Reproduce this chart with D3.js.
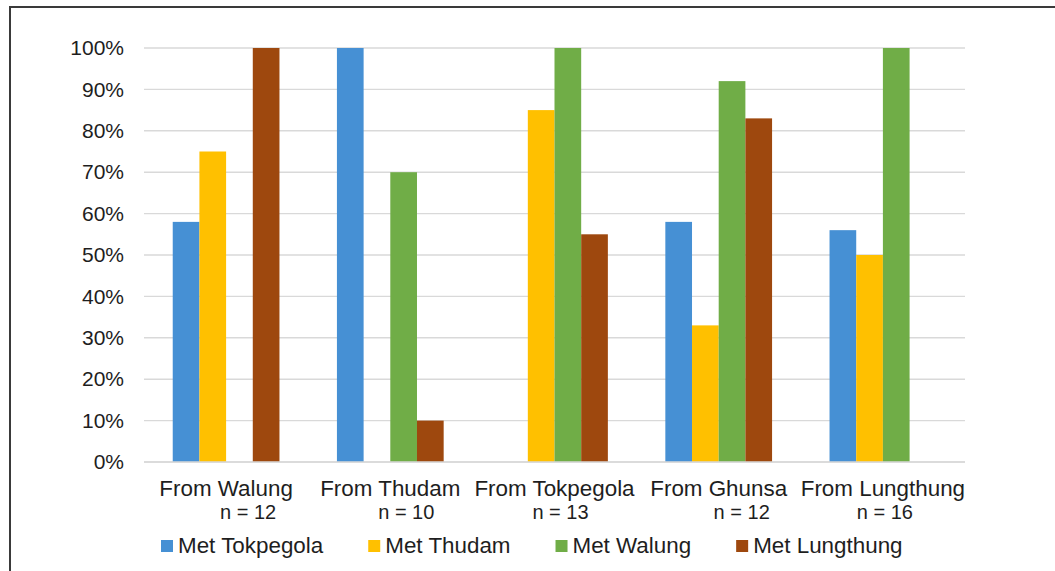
<!DOCTYPE html>
<html>
<head>
<meta charset="utf-8">
<script src="https://cdn.jsdelivr.net/npm/d3@7"></script>
<style>
  html, body { margin: 0; padding: 0; background: #fff; }
  svg { display: block; font-family: "Liberation Sans", Arial, sans-serif; }
</style>
</head>
<body>
<svg id="chart" width="1055" height="571"></svg>
<script>
// Origin villages (x categories) and sample sizes
const categories = ["From Walung", "From Thudam", "From Tokpegola", "From Ghunsa", "From Lungthung"];
const sampleSizes = ["n = 12", "n = 10", "n = 13", "n = 12", "n = 16"];

// Series: share of respondents who met people from each village
const seriesNames = ["Met Tokpegola", "Met Thudam", "Met Walung", "Met Lungthung"];
const metTokpegola = [0.58, 1.00, 0.00, 0.58, 0.56];
const metThudam    = [0.75, 0.00, 0.85, 0.33, 0.50];
const metWalung    = [0.00, 0.70, 1.00, 0.92, 1.00];
const metLungthung = [1.00, 0.10, 0.55, 0.83, 0.00];
const seriesValues = [metTokpegola, metThudam, metWalung, metLungthung];
const seriesColors = ["#4690d4", "#ffc000", "#70ad47", "#9e480e"];

const yTicks = [0, 0.1, 0.2, 0.3, 0.4, 0.5, 0.6, 0.7, 0.8, 0.9, 1.0];

// Layout
const plot = { left: 144, right: 965, top: 48, bottom: 462 };
const nLabelShift = [22, 16, 6, 23, 2];   // sample-size lines sit slightly right of centre
const tickFont = 21;
const labelFont = 22.4;
const textColor = "#1e1e1e";

const svg = d3.select("#chart");

// Outer chart frame (top and left edges are visible)
svg.append("path")
  .attr("d", "M10,571 L10,7 L1055,7")
  .attr("fill", "none")
  .attr("stroke", "#3a3a3a")
  .attr("stroke-width", 2);

const x0 = d3.scaleBand().domain(categories).range([plot.left, plot.right]).paddingInner(0.35).paddingOuter(0.175);
const x1 = d3.scaleBand().domain(seriesNames).range([0, x0.bandwidth()]);
const y = d3.scaleLinear().domain([0, 1]).range([plot.bottom, plot.top]);

// Gridlines
svg.append("g")
  .selectAll("line")
  .data(yTicks)
  .join("line")
  .attr("x1", plot.left).attr("x2", plot.right)
  .attr("y1", d => y(d)).attr("y2", d => y(d))
  .attr("stroke", "#d9d9d9")
  .attr("stroke-width", 1.4);

// Y axis labels
const yAxis = d3.axisLeft(y).tickValues(yTicks).tickFormat(d3.format(".0%")).tickSize(0).tickPadding(20);
const yg = svg.append("g").attr("transform", `translate(${plot.left},0)`).call(yAxis);
yg.select(".domain").remove();
yg.selectAll("text")
  .attr("font-family", "Liberation Sans, Arial, sans-serif")
  .attr("font-size", tickFont)
  .attr("fill", textColor);

// Bars
const groups = svg.append("g")
  .selectAll("g")
  .data(categories)
  .join("g")
  .attr("transform", d => `translate(${x0(d)},0)`);

groups.selectAll("rect")
  .data((c, ci) => seriesNames.map((s, si) => ({ s, v: seriesValues[si][ci], color: seriesColors[si] })))
  .join("rect")
  .attr("x", d => x1(d.s))
  .attr("width", x1.bandwidth())
  .attr("y", d => y(d.v))
  .attr("height", d => y(0) - y(d.v))
  .attr("fill", d => d.color);

// Baseline
svg.append("line")
  .attr("x1", plot.left).attr("x2", plot.right)
  .attr("y1", y(0)).attr("y2", y(0))
  .attr("stroke", "#d9d9d9").attr("stroke-width", 1.4);

// Category labels with sample sizes
const xl = svg.append("g")
  .selectAll("g")
  .data(categories)
  .join("g");
xl.append("text")
  .attr("x", d => x0(d) + x0.bandwidth() / 2)
  .attr("y", 496)
  .attr("text-anchor", "middle")
  .attr("font-size", labelFont)
  .attr("fill", textColor)
  .text(d => d);
xl.append("text")
  .attr("x", (d, i) => x0(d) + x0.bandwidth() / 2 + nLabelShift[i])
  .attr("y", 519)
  .attr("text-anchor", "middle")
  .attr("font-size", 20)
  .attr("fill", textColor)
  .text((d, i) => sampleSizes[i]);

// Legend
const legend = svg.append("g");
let lx = 161;
seriesNames.forEach((name, i) => {
  const item = legend.append("g").attr("transform", `translate(${lx},0)`);
  item.append("rect")
    .attr("x", 0).attr("y", 540)
    .attr("width", 12).attr("height", 12)
    .attr("fill", seriesColors[i]);
  const t = item.append("text")
    .attr("x", 17).attr("y", 553)
    .attr("font-size", labelFont)
    .attr("fill", textColor)
    .text(name);
  lx += 17 + t.node().getComputedTextLength() + 45;
});
</script>
</body>
</html>
